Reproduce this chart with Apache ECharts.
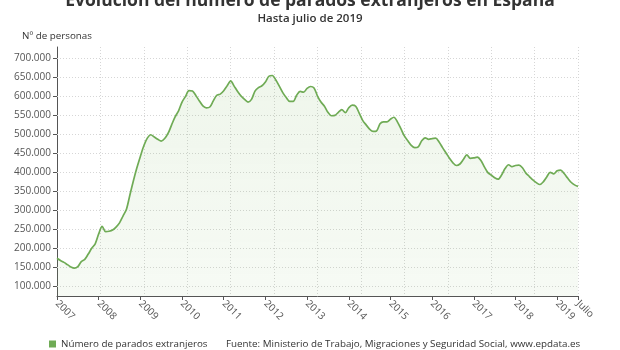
<!DOCTYPE html>
<html>
<head>
<meta charset="utf-8">
<script src="https://cdn.jsdelivr.net/npm/echarts@6/dist/echarts.min.js"></script>
<style>
  html, body { margin: 0; padding: 0; background: #fff; }
  #chart { width: 620px; height: 350px; }
</style>
</head>
<body>
<div id="chart"></div>
<script>
// Años que aparecen como etiquetas del eje X (una por enero) y la etiqueta final
const years = ['2007', '2008', '2009', '2010', '2011', '2012', '2013', '2014', '2015', '2016', '2017', '2018', '2019'];
const lastLabel = 'Julio';
const monthsIn2019 = 7;

// Parados extranjeros, en miles, de enero de 2007 a julio de 2019
const parados2007 = [174, 168, 163, 157, 151, 148, 152, 165, 171, 185, 200, 212];
const parados2008 = [238, 258, 244, 245, 248, 256, 267, 285, 303, 341, 378, 412];
const parados2009 = [442, 470, 490, 499, 493, 487, 482, 489, 503, 525, 546, 562];
const parados2010 = [585, 600, 615, 614, 602, 588, 575, 570, 572, 588, 603, 606];
const parados2011 = [615, 628, 641, 627, 613, 601, 592, 585, 592, 614, 623, 628];
const parados2012 = [638, 653, 655, 643, 627, 610, 597, 587, 587, 603, 613, 611];
const parados2013 = [621, 626, 622, 601, 585, 574, 558, 549, 550, 558, 565, 557];
const parados2014 = [570, 577, 574, 556, 537, 525, 514, 508, 509, 528, 533, 533];
const parados2015 = [540, 545, 533, 515, 496, 483, 471, 465, 467, 483, 491, 487];
const parados2016 = [489, 490, 480, 465, 451, 437, 425, 418, 422, 434, 446, 437];
const parados2017 = [438, 440, 432, 415, 400, 393, 386, 382, 393, 410, 420, 415];
const parados2018 = [418, 419, 412, 398, 389, 380, 373, 368, 375, 388, 400, 396];
const parados2019 = [404, 406, 397, 385, 374, 367, 363];

// Marcas del eje Y
const yTicks = [100000, 150000, 200000, 250000, 300000, 350000, 400000, 450000, 500000, 550000, 600000, 650000, 700000];

const parados = [].concat(parados2007, parados2008, parados2009, parados2010, parados2011,
  parados2012, parados2013, parados2014, parados2015, parados2016, parados2017,
  parados2018, parados2019).map(v => v * 1000);

// one category per month
const categories = [];
years.forEach((y, i) => {
  const n = (i === years.length - 1) ? monthsIn2019 : 12;
  for (let m = 0; m < n; m++) categories.push(y + '-' + (m + 1));
});
const lastIndex = categories.length - 1;

function fmt(v) {
  return String(v).replace(/\B(?=(\d{3})+(?!\d))/g, '.');
}

const FONT = 'Open Sans';
const GRID_COLOR = '#d6d6d6';
const chart = echarts.init(document.getElementById('chart'));

const option = {
  animation: false,
  textStyle: { fontFamily: FONT },
  title: [
    {
      text: 'Evolución del número de parados extranjeros en España',
      left: 'center',
      top: -13,
      textStyle: { fontFamily: FONT, fontSize: 17.5, fontWeight: 'bold', color: '#333' }
    },
    {
      text: 'Hasta julio de 2019',
      left: 'center',
      top: 8,
      textStyle: { fontFamily: FONT, fontSize: 11.5, fontWeight: 600, color: '#333' }
    },
    {
      text: 'Fuente: Ministerio de Trabajo, Migraciones y Seguridad Social, www.epdata.es',
      left: 221,
      top: 334,
      textStyle: { fontFamily: FONT, fontSize: 9.8, fontWeight: 'normal', color: '#333' }
    }
  ],
  legend: {
    left: 44,
    top: 334,
    icon: 'rect',
    itemWidth: 7,
    itemHeight: 7,
    itemGap: 5,
    textStyle: { fontFamily: FONT, fontSize: 9.8, color: '#333' },
    data: ['Número de parados extranjeros']
  },
  grid: { left: 57, right: 42, top: 47, bottom: 54 },
  xAxis: [
    {
      type: 'category',
      data: categories,
      boundaryGap: false,
      axisLine: { lineStyle: { color: '#555', width: 1 } },
      axisTick: {
        show: true,
        length: 4,
        lineStyle: { color: '#555' },
        interval: (i) => i % 12 === 0 || i === lastIndex
      },
      axisLabel: {
        interval: (i) => i % 12 === 0 || i === lastIndex,
        formatter: (v, i) => i === lastIndex ? lastLabel : v.split('-')[0],
        rotate: -45,
        margin: 6,
        fontSize: 10,
        color: '#555'
      },
      splitLine: { show: false }
    },
    {
      // only carries the evenly spaced vertical grid lines
      type: 'value',
      min: 0,
      max: 12,
      interval: 1,
      position: 'bottom',
      axisLine: { show: false },
      axisTick: { show: false },
      axisLabel: { show: false },
      splitLine: { show: true, lineStyle: { color: GRID_COLOR, type: [1, 2], width: 1 } }
    }
  ],
  yAxis: {
    type: 'value',
    min: 74500,
    max: 730000,
    name: 'Nº de personas',
    nameLocation: 'end',
    nameGap: 6,
    nameTextStyle: { fontFamily: FONT, fontSize: 9.8, color: '#333', align: 'center' },
    axisLine: { show: true, lineStyle: { color: '#555', width: 1 } },
    axisTick: { show: true, length: 4, lineStyle: { color: '#555' }, customValues: yTicks },
    axisLabel: {
      customValues: yTicks,
      fontSize: 10,
      color: '#555',
      margin: 6,
      formatter: (v) => fmt(v)
    },
    splitLine: { show: false }
  },
  series: [
    {
      name: 'Número de parados extranjeros',
      type: 'line',
      xAxisIndex: 0,
      data: parados,
      smooth: 0.3,
      showSymbol: false,
      color: '#6fab55',
      lineStyle: { color: '#6fab55', width: 1.7 },
      areaStyle: {
        color: new echarts.graphic.LinearGradient(0, 0, 0, 1, [
          { offset: 0, color: 'rgba(120, 180, 90, 0.17)' },
          { offset: 1, color: 'rgba(120, 180, 90, 0.09)' }
        ])
      },
      // horizontal dotted grid lines at every labelled value
      markLine: {
        silent: true,
        symbol: 'none',
        label: { show: false },
        lineStyle: { color: GRID_COLOR, type: [1, 2], width: 1 },
        data: yTicks.map(v => ({ yAxis: v })),
        z: 1
      }
    }
  ]
};

chart.setOption(option);
</script>
</body>
</html>
